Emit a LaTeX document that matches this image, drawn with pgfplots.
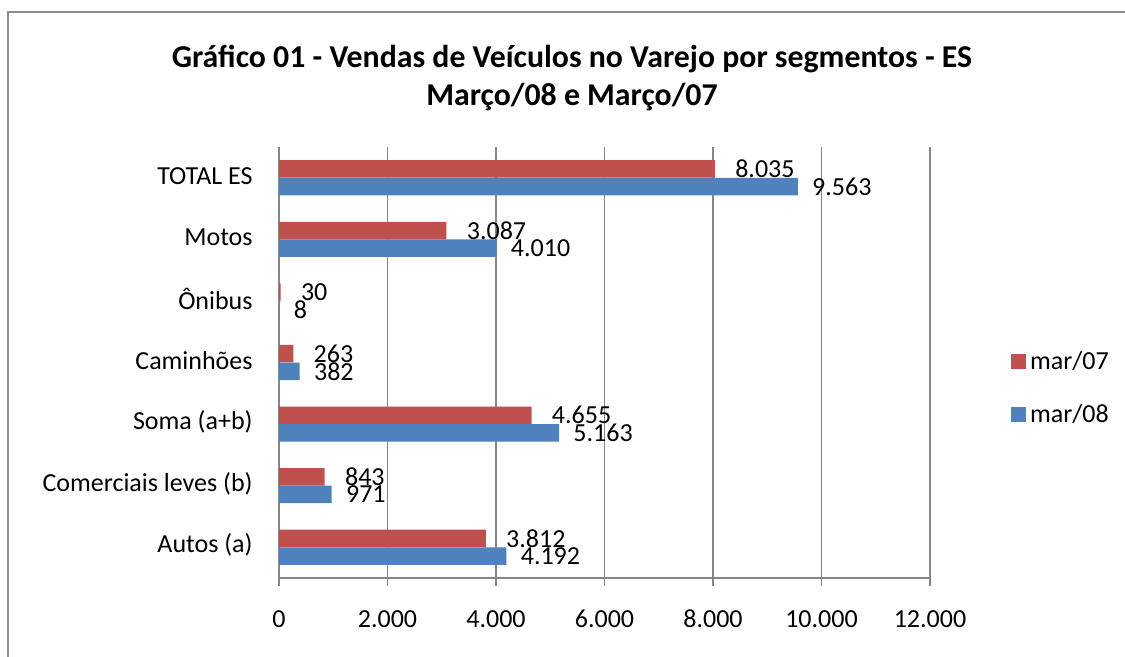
\documentclass[border=0pt]{standalone}
\usepackage{fontspec}
\setmainfont{Carlito}
\usepackage{pgfplots}
\pgfplotsset{compat=1.18}
\definecolor{cRed}{HTML}{C0504D}
\definecolor{cBlue}{HTML}{4F81BD}
\definecolor{cGrid}{HTML}{868686}
\definecolor{cFrame}{HTML}{8E8E8E}

\pgfplotstableread{
y v07 v08
0 3812 4192
1 843 971
2 4655 5163
3 263 382
4 30 8
5 3087 4010
6 8035 9563
}\datatab

\begin{document}
\begin{tikzpicture}
\useasboundingbox (0,0) rectangle (562.5pt,328.5pt);
\fill[white] (0,0) rectangle (562.5pt,328.5pt);
\draw[cFrame, line width=1pt] (4pt,-2pt) -- (4pt,322.5pt) -- (564pt,322.5pt);
\node[font=\fontsize{15.9}{19}\selectfont\bfseries, align=center] at (286pt,289.5pt) {Gráfico 01 - Vendas de Veículos no Varejo por segmentos - ES\\Março/08 e Março/07};
\begin{axis}[
  at={(139.5pt,39.5pt)}, anchor=south west,
  scale only axis, width=325.5pt, height=215.5pt,
  xbar, bar width=8.75pt,
  xmin=0, xmax=12000, ymin=-0.5, ymax=6.5,
  xtick={0,2000,...,12000},
  scaled x ticks=false,
  ytick={0,...,6},
  yticklabels={Autos (a), Comerciais leves (b), Soma (a+b), Caminhões, Ônibus, Motos, TOTAL ES},
  minor ytick={-0.5,0.5,...,6.5},
  axis x line*=bottom, axis y line*=left,
  axis line style={cGrid, line width=0.9pt},
  tick align=outside,
  major tick length=4pt, minor tick length=4.5pt,
  ytick style={draw=none},
  minor y tick style={cGrid, line width=0.9pt},
  xtick style={cGrid, line width=0.9pt},
  xmajorgrids, grid style={cGrid, line width=0.9pt},
  /pgf/number format/.cd, fixed, 1000 sep={.}, assume math mode=true,
  /pgfplots/.cd,
  tick label style={font=\fontsize{13}{15}\selectfont, black},
  yticklabel style={anchor=east, inner sep=0pt, xshift=-9pt, yshift=1pt},
  xticklabel style={anchor=base, inner sep=0pt, yshift=-21pt},
  point meta=x,
  nodes near coords,
  every node near coord/.append style={anchor=west, inner sep=0pt, font=\fontsize{13}{15}\selectfont, black},
  legend style={at={(1.115,0.44)}, anchor=west, draw=none, fill=none, font=\fontsize{13}{15}\selectfont, row sep=12pt},
  legend cell align=left,
  legend image code/.code={\fill[#1, draw=none] (0pt,-3.7pt) rectangle (7.4pt,3.7pt);},
]
\addplot[fill=cRed, draw=none, bar shift=4.4pt, every node near coord/.append style={xshift=10pt}] table[x=v07, y=y] {\datatab};
\addplot[fill=cBlue, draw=none, bar shift=-4.4pt, every node near coord/.append style={xshift=7pt}] table[x=v08, y=y] {\datatab};
\legend{mar/07, mar/08}
\end{axis}
\end{tikzpicture}
\end{document}
